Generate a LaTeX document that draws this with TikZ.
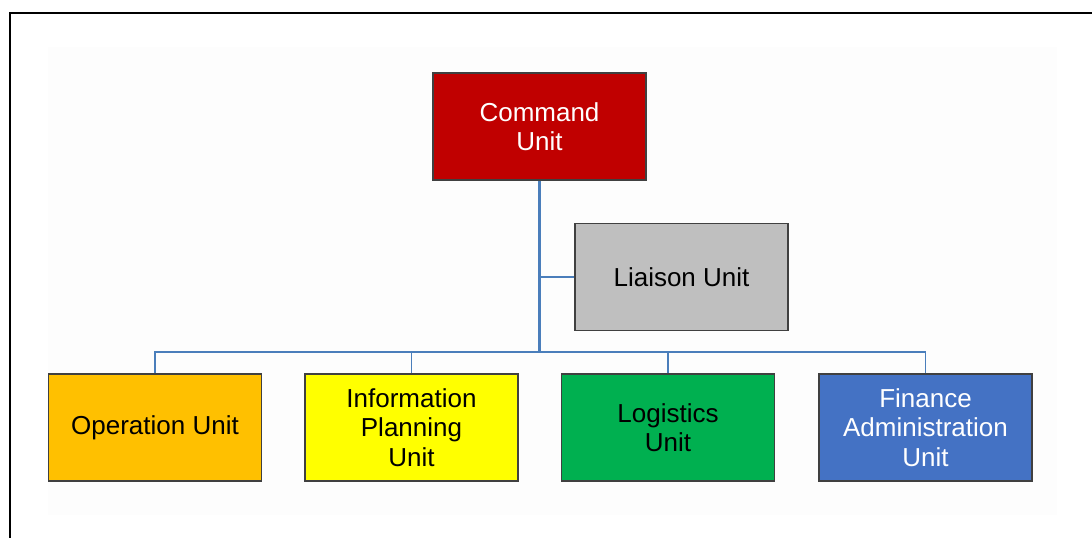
\documentclass[tikz,border=0pt]{standalone}
\usepackage{fontspec}
\setmainfont{Liberation Sans}
\usetikzlibrary{positioning}
\definecolor{CmdRed}{HTML}{C00000}
\definecolor{LiaisonGray}{HTML}{BFBFBF}
\definecolor{OpsAmber}{HTML}{FFC000}
\definecolor{InfoYellow}{HTML}{FFFF00}
\definecolor{LogiGreen}{HTML}{00B050}
\definecolor{FinBlue}{HTML}{4472C4}
\definecolor{LinkBlue}{HTML}{4A7EBB}
\definecolor{PaperGray}{HTML}{FDFDFD}

\tikzset{
  unit/.style={draw=black!75, line width=1.1pt, minimum width=159.75pt,
    minimum height=80.25pt, align=center, font=\fontsize{19.5}{22}\selectfont,
    inner sep=2pt},
  link/.style={draw=LinkBlue, line width=1.1pt},
  trunk/.style={draw=LinkBlue, line width=1.6pt}
}

\begin{document}
\begin{tikzpicture}[x=0.75pt, y=-0.75pt]
  \useasboundingbox (0,0) rectangle (1092,538);

  % Frame and paper
  \draw[line width=2pt] (10,538) -- (10,13) -- (1092,13);
  \fill[PaperGray] (48,47) rectangle (1057,515);

  % Top of the chart
  \node[unit, fill=CmdRed, text=white] (cmd) at (539.5,126.5) {Command\\Unit};
  \node[unit, fill=LiaisonGray] (liaison) at (681.5,277) {Liaison Unit};

  % Bottom row
  \node[unit, fill=OpsAmber] (ops) at (155,427.5) {Operation Unit};
  \node[unit, fill=InfoYellow] (info) at (411.5,427.5)
    {Information\\Planning\\Unit};
  \node[unit, fill=LogiGreen] (logi) at (668,427.5) {Logistics\\Unit};
  \node[unit, fill=FinBlue, text=white] (fin) at (925.5,427.5)
    {Finance\\Administration\\Unit};

  % Connectors
  \coordinate (bus) at (cmd.south |- 0,352);
  \draw[trunk] (cmd.south) -- (bus);
  \draw[link] (liaison.west) -- (liaison.west -| cmd.south);
  \draw[link] (ops.north) |- (bus);
  \draw[link] (info.north) |- (bus);
  \draw[link] (logi.north) |- (bus);
  \draw[link] (fin.north) |- (bus);
\end{tikzpicture}
\end{document}
